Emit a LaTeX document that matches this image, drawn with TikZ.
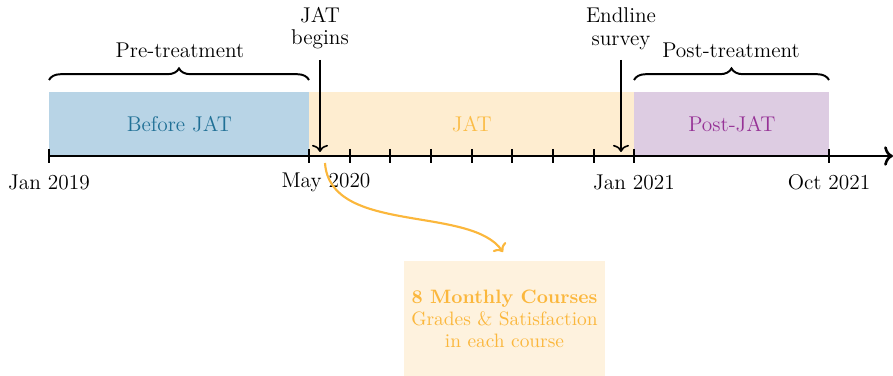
\documentclass[tikz,border=0pt]{standalone}
\usetikzlibrary{arrows.meta,decorations.pathreplacing}
\definecolor{bfill}{RGB}{184,212,230}
\definecolor{btext}{RGB}{32,112,150}
\definecolor{jfill}{RGB}{254,237,208}
\definecolor{jtext}{RGB}{251,188,70}
\definecolor{pfill}{RGB}{221,204,226}
\definecolor{ptext}{RGB}{150,50,150}
\definecolor{cfill}{RGB}{254,242,222}
\definecolor{corange}{RGB}{251,183,60}
\begin{document}
\begin{tikzpicture}[x=0.562pt,y=-0.562pt,
  period/.style={inner sep=0,anchor=south west,minimum height=64*0.562pt,font=\large},
  tickmark/.style={line width=1.5pt},
  datelabel/.style={font=\large,inner sep=0},
  bracelbl/.style={font=\large,inner sep=0},
  braceline/.style={decorate,decoration={brace,amplitude=6.5pt},line width=1.1pt},
  event/.style={font=\large,align=center,inner sep=0},
  evarrow/.style={line width=0.9pt,-{To[length=4pt,width=9pt]}},
  coursebox/.style={fill=cfill,text=corange,align=center,font=\fontsize{10.9}{12.4}\selectfont,minimum width=201*0.562pt,minimum height=115*0.562pt,inner sep=0}]
\useasboundingbox (0,0) rectangle (893,376);
% period boxes
\node[period,fill=bfill,text=btext,minimum width=260*0.562pt] (before) at (49,156) {Before JAT};
\node[period,fill=jfill,text=jtext,minimum width=325*0.562pt] (jat) at (309,156) {JAT};
\node[period,fill=pfill,text=ptext,minimum width=195*0.562pt] (post) at (634,156) {Post-JAT};
% axis
\coordinate (axstart) at (49,156);
\coordinate (axend) at (893,156);
\draw[line width=1.5pt,-{To[length=5pt,width=11pt]}] (axstart) -- (axend);
\foreach \x in {49,309,350,390,431,472,512,553,594,634,829}
  \draw[tickmark] (\x,149) -- (\x,163);
% date labels
\node[datelabel] (d1) at (49,182) {Jan 2019};
\node[datelabel] (d2) at (326,182) {May 2020};
\node[datelabel] (d3) at (634,182) {Jan 2021};
\node[datelabel] (d4) at (829,182) {Oct 2021};
% braces
\coordinate (b1s) at (49,80);
\coordinate (b1e) at (309,80);
\coordinate (b2s) at (634,80);
\coordinate (b2e) at (829,80);
\draw[braceline] (b1s) -- (b1e);
\draw[braceline] (b2s) -- (b2e);
\node[bracelbl] (pre) at (180,50) {Pre-treatment};
\node[bracelbl] (postt) at (731,50) {Post-treatment};
% events
\node[event] (begins) at (320,28) {JAT\\[-2pt]begins};
\node[event] (endline) at (621,29) {Endline\\[-1pt]survey};
\coordinate (bst) at (320,60);
\coordinate (est) at (621,60);
\coordinate (beginsTip) at (320,152);
\coordinate (endlineTip) at (621,152);
\draw[evarrow] (bst) -- (beginsTip);
\draw[evarrow] (est) -- (endlineTip);
% courses
\node[coursebox] (courses) at (504.5,318.5) {\textbf{8 Monthly Courses}\\Grades \& Satisfaction\\in each course};
\coordinate (cstart) at (325,163);
\coordinate (cend) at (503,252);
\draw[corange,line width=1.2pt,-{To[length=4pt,width=9pt]}] (cstart) .. controls (330,235) and (470,205) .. (cend);
\end{tikzpicture}
\end{document}
